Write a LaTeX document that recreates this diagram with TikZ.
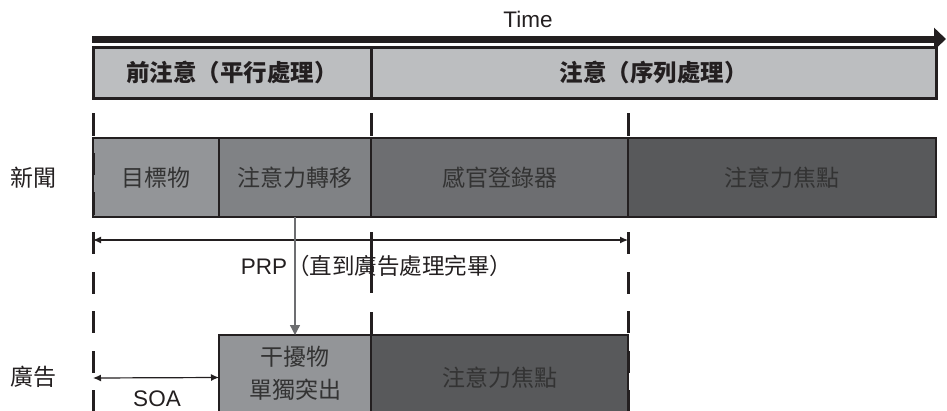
\documentclass[tikz,border=0pt]{standalone}
\usepackage{fontspec}
\setmainfont{Liberation Sans}
\newfontfamily\cjk{Noto Sans CJK TC}
\usetikzlibrary{arrows.meta}
\definecolor{ink}{HTML}{231F20}
\definecolor{hdr}{HTML}{BCBEC0}
\definecolor{gA}{HTML}{939598}
\definecolor{gB}{HTML}{808285}
\definecolor{gC}{HTML}{6D6E71}
\definecolor{gD}{HTML}{58595B}
\definecolor{txt}{HTML}{333333}
\begin{document}
\begin{tikzpicture}[x=1pt,y=-1pt,
  box/.style={draw=ink, line width=1.5pt, minimum height=79pt, inner sep=0pt, outer sep=0pt, text=txt, font=\cjk\fontsize{23}{27}\selectfont, anchor=north west},
  adbox/.style={box, minimum height=85pt},
  hdrbox/.style={draw=ink, line width=3pt, fill=hdr, minimum height=51pt, inner sep=0pt, outer sep=0pt, anchor=north west, font=\cjk\bfseries\fontsize{23.5}{27}\selectfont, text=ink},
  tickline/.style={ink, line width=3pt},
  lbl/.style={font=\cjk\fontsize{23}{27}\selectfont, text=ink},
  latin/.style={font=\fontsize{22.5}{26}\selectfont, text=ink},
  dim/.style={ink, line width=1.2pt, {Latex[length=8pt,width=7pt]}-{Latex[length=8pt,width=7pt]}}
]
\useasboundingbox (0,0) rectangle (947,410);
\clip (0,0) rectangle (947,410);

% time axis
\node[latin] (time) at (528,19) {Time};
\coordinate (timeL) at (92,39);
\coordinate (timeR) at (946,39);
\draw[ink, line width=7pt, -{Triangle[length=12pt,width=22pt]}] (timeL) -- (timeR);

% header boxes
\node[hdrbox, minimum width=278pt] (pre) at (93,47) {前注意（平行處理）};
\node[hdrbox, minimum width=565pt] (att) at (371,47) {注意（序列處理）};

% news row
\node[lbl] (news) at (33,178) {新聞};
\node[box, fill=gA, minimum width=126pt] (target) at (93,138) {目標物};
\node[box, fill=gB, minimum width=152pt] (shift) at (219,138) {注意力轉移};
\node[box, fill=gC, minimum width=257pt] (sensory) at (371,138) {感官登錄器};
\node[box, fill=gD, minimum width=308pt] (focusA) at (628,138) {注意力焦點};

% ad row
\node[lbl] (ad) at (33,377) {廣告};
\node[adbox, fill=gA, minimum width=152pt] (distract) at (219,335) {};
\node[font=\cjk\fontsize{23}{33}\selectfont, text=txt, align=center] (distracttxt) at (295,373) {干擾物\\單獨突出};
\node[adbox, fill=gD, minimum width=257pt] (focusB) at (371,335) {注意力焦點};

% timing ticks and dashed guides
\foreach \x in {93,371,628} \draw[tickline] (\x,113) -- (\x,136);
\foreach \a/\b in {153/175,192/215,232/254,272/294,311/333,351/373,390/412}
  \draw[tickline] (93,\a) -- (93,\b);
\foreach \a/\b in {232/254,272/294,311/333,351/373,390/412}
  \draw[tickline] (628,\a) -- (628,\b);
\draw[tickline] (371,232) -- (371,293);
\draw[tickline] (371,312) -- (371,336);

% PRP
\coordinate (prpL) at (93,240);
\coordinate (prpR) at (628,240);
\draw[dim] (prpL) -- (prpR);
\node[latin] (prp) at (376.5,266) {PRP{\cjk （直到廣告處理完畢）}};

% attention shift arrow
\draw[gC, line width=1.3pt, -{Triangle[length=10pt,width=10pt]}] (shift.south) -- (distract.north);

% SOA
\coordinate (soaL) at (93,378);
\draw[dim] (soaL) -- (distract.west);
\node[latin] (soa) at (157,399) {SOA};
\end{tikzpicture}
\end{document}
